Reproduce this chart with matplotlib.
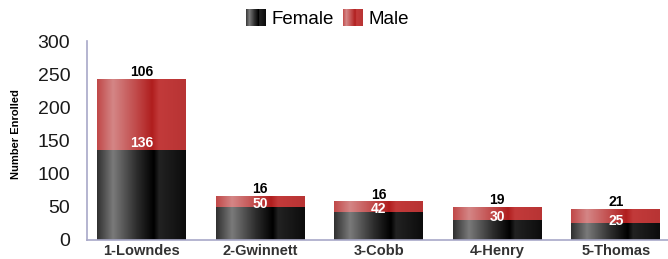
import numpy as np
import matplotlib
matplotlib.use("Agg")
import matplotlib.pyplot as plt
from matplotlib.colors import LinearSegmentedColormap
from matplotlib.legend_handler import HandlerBase
from matplotlib.patches import Rectangle

plt.rcParams["font.family"] = ["Liberation Sans", "DejaVu Sans"]

counties = ["1-Lowndes", "2-Gwinnett", "3-Cobb", "4-Henry", "5-Thomas"]
female = [136, 50, 42, 30, 25]
male = [106, 16, 16, 19, 21]

female_cmap = LinearSegmentedColormap.from_list("female", [
    (0.0, "#303030"), (0.18, "#7a7a7a"), (0.45, "#2c2c2c"),
    (0.64, "#000000"), (0.7, "#222222"), (1.0, "#0c0c0c")])
male_cmap = LinearSegmentedColormap.from_list("male", [
    (0.0, "#c04848"), (0.18, "#d48686"), (0.45, "#c04848"),
    (0.62, "#b01e1e"), (0.7, "#c23a3a"), (1.0, "#b83434")])


class GradientHandler(HandlerBase):
    def __init__(self, cmap):
        super().__init__()
        self.cmap = cmap

    def create_artists(self, legend, orig_handle, xdescent, ydescent,
                       width, height, fontsize, trans):
        n = 40
        arts = []
        for i in range(n):
            arts.append(Rectangle((-xdescent + width * i / n, -ydescent),
                                  width / n * 1.1, height,
                                  facecolor=self.cmap((i + 0.5) / n),
                                  edgecolor="none", transform=trans))
        return arts


fig = plt.figure(figsize=(6.68, 2.59), dpi=100)
ax = fig.add_axes([87 / 668, 19 / 259, 581 / 668, 199 / 259])

x = np.arange(len(counties))
grad = np.linspace(0, 1, 256).reshape(1, -1)

fbars = ax.bar(x, female, width=0.75, color="none", edgecolor="none")
mbars = ax.bar(x, male, width=0.75, bottom=female, color="none", edgecolor="none")

for bars, cmap in [(fbars, female_cmap), (mbars, male_cmap)]:
    for p in bars:
        x0, y0 = p.get_x(), p.get_y()
        ax.imshow(grad, cmap=cmap, aspect="auto", interpolation="bilinear",
                  extent=(x0, x0 + p.get_width(), y0, y0 + p.get_height()),
                  zorder=2)

for i in range(len(counties)):
    off = 5 if male[i] > 40 else 2
    ax.annotate(str(female[i]), (x[i], female[i]), xytext=(0, off),
                textcoords="offset points", ha="center", va="center",
                color="white", fontsize=10, fontweight="bold", zorder=3)
    ax.annotate(str(male[i]), (x[i], female[i] + male[i]), xytext=(0, 0),
                textcoords="offset points", ha="center", va="bottom",
                color="black", fontsize=10, fontweight="bold", zorder=3)

ax.set_xlim(-0.46, 4.44)
ax.set_ylim(0, 300)
ax.set_yticks(range(0, 301, 50))
ax.set_xticks(x)
ax.set_xticklabels(counties, fontsize=10.5, fontweight="bold", color="#333333")
ax.tick_params(axis="y", length=0, pad=12, labelsize=14, labelcolor="#1a1a1a")
ax.tick_params(axis="x", length=0, pad=3)
ax.set_ylabel("Number Enrolled", fontsize=8, fontweight="bold")
ax.yaxis.set_label_coords(-0.113, 0.53)

for s in ["top", "right"]:
    ax.spines[s].set_visible(False)
for s in ["left", "bottom"]:
    ax.spines[s].set_color("#a8a8c8")
    ax.spines[s].set_linewidth(1.2)

h1 = Rectangle((0, 0), 1, 1)
h2 = Rectangle((0, 0), 1, 1)
fig.legend([h1, h2], ["Female", "Male"], loc="upper center",
           bbox_to_anchor=(0.49, 1.03), ncol=2, frameon=False, fontsize=13.5,
           handlelength=1.05, handleheight=1.05, handletextpad=0.3,
           columnspacing=0.5,
           handler_map={h1: GradientHandler(female_cmap),
                        h2: GradientHandler(male_cmap)})

fig.savefig("out.png", dpi=100)
